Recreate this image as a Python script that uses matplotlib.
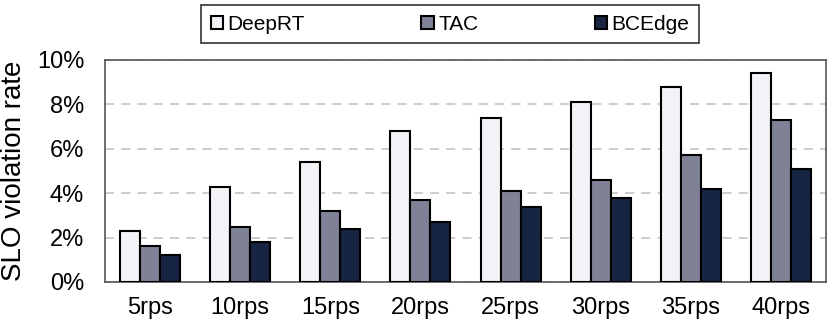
import matplotlib.pyplot as plt
import numpy as np

plt.rcParams["font.family"] = ["Liberation Sans", "DejaVu Sans"]

rates = ["5rps", "10rps", "15rps", "20rps", "25rps", "30rps", "35rps", "40rps"]
deeprt = [2.3, 4.3, 5.4, 6.8, 7.4, 8.1, 8.8, 9.4]
tac = [1.6, 2.5, 3.2, 3.7, 4.1, 4.6, 5.7, 7.3]
bcedge = [1.2, 1.8, 2.4, 2.7, 3.4, 3.8, 4.2, 5.1]

series = [("DeepRT", deeprt, "#f2f2f7"), ("TAC", tac, "#7f8296"), ("BCEdge", bcedge, "#172442")]

fig = plt.figure(figsize=(8.31, 3.25), dpi=100)
ax = fig.add_axes([105 / 831, 1 - 282 / 325, 721 / 831, 222 / 325])

x = np.arange(len(rates))
width = 0.222
for i, (name, vals, color) in enumerate(series):
    ax.bar(x + (i - 1) * width, vals, width, color=color, edgecolor="black",
           linewidth=1.5, label=name, zorder=3)

ax.set_xlim(-0.5, len(rates) - 0.5)
ax.set_ylim(0, 10)
ax.set_yticks([0, 2, 4, 6, 8, 10])
ax.set_yticklabels([f"{v}%" for v in [0, 2, 4, 6, 8, 10]], fontsize=17)
ax.set_xticks(x)
ax.set_xticklabels(rates, fontsize=17)
ax.tick_params(axis="both", length=0)
ax.tick_params(axis="x", pad=11)
ax.tick_params(axis="y", pad=15)
ax.set_ylabel("SLO violation rate", fontsize=20)
ax.yaxis.set_label_coords(-78 / 721, 0.5)
ax.yaxis.grid(True, color="#c8c8c8", linestyle=(0, (5, 4)), linewidth=1.3, zorder=0)

for sp in ax.spines.values():
    sp.set_color("#555555")
    sp.set_linewidth(1.2)

leg = fig.legend(loc="center", bbox_to_anchor=(450 / 831, 1 - 24 / 325), ncol=3,
                 fontsize=15, frameon=True, fancybox=False, edgecolor="black",
                 handlelength=0.6, handleheight=0.6, handletextpad=0.2,
                 columnspacing=5.6, borderpad=0.45, borderaxespad=0)
leg.get_frame().set_linewidth(1.2)

fig.savefig("out.png", dpi=100)
plt.close()
